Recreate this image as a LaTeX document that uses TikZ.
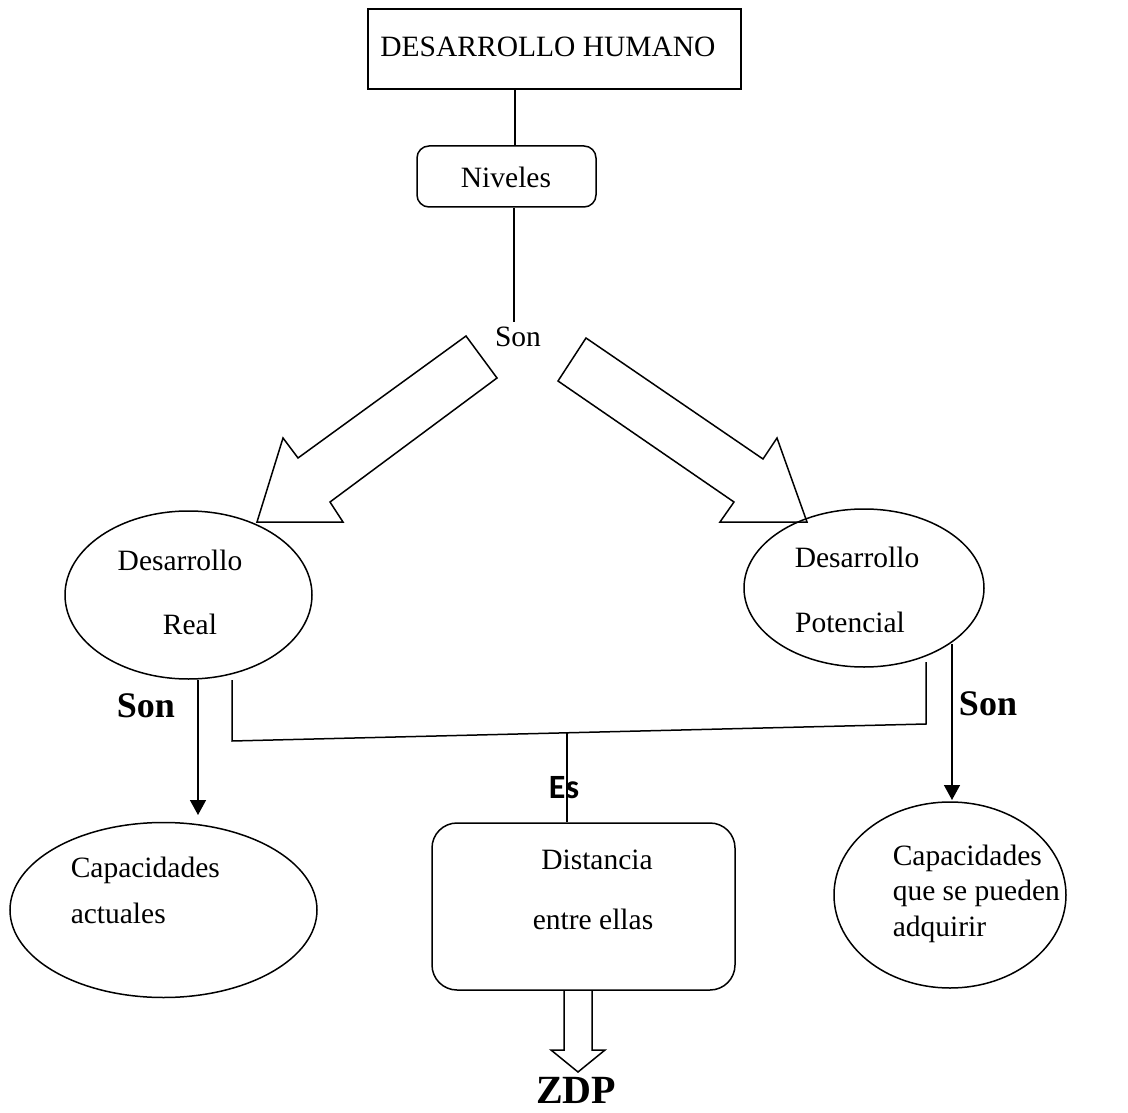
\documentclass[tikz,border=0pt]{standalone}
\usepackage{fontspec}
\setmainfont{Liberation Serif}
\newfontfamily\esfont{Carlito}
\usetikzlibrary{shapes.geometric,arrows.meta}
\begin{document}
\begin{tikzpicture}[x=1pt,y=-1pt,line width=1.5pt,line join=miter,
  txt/.style={font=\fontsize{29.5}{35}\selectfont,inner sep=0pt,anchor=base},
  boldlbl/.style={font=\fontsize{36}{40}\selectfont\bfseries,inner sep=0pt,anchor=base},
  oval/.style={draw,ellipse,inner sep=0pt},
  tip/.style={-{Triangle[width=16pt,length=15pt]}}]
\useasboundingbox (0,0) rectangle (1128,1113);
% boxes
\node[draw,rectangle,minimum width=373pt,minimum height=80pt] (top) at (554.5,49) {};
\node[txt] (toptxt) at (548,57) {DESARROLLO HUMANO};
\node[draw,rectangle,rounded corners=12pt,minimum width=179pt,minimum height=61pt] (niv) at (506.5,176.5) {};
\node[txt] (nivtxt) at (506,188) {Niveles};
\node[txt] (son) at (518,346) {Son};
% ovals
\node[oval,minimum width=247pt,minimum height=168pt] (dr) at (188.5,595) {};
\node[txt] (dr1) at (180,570) {Desarrollo};
\node[txt] (dr2) at (190,634) {Real};
\node[oval,minimum width=240pt,minimum height=158pt] (dp) at (864,588) {};
\node[txt] (dp1) at (857,567) {Desarrollo};
\node[txt] (dp2) at (850,632) {Potencial};
\node[oval,minimum width=307pt,minimum height=175pt] (ca) at (163.5,910) {};
\node[txt,anchor=base west] (ca1) at (70,877) {Capacidades};
\node[txt,anchor=base west] (ca2) at (70,923) {actuales};
\node[oval,minimum width=232pt,minimum height=186pt] (cq) at (950,895) {};
\node[txt,anchor=base west] (cq1) at (892,865) {Capacidades};
\node[txt,anchor=base west] (cq2) at (892,900) {que se pueden};
\node[txt,anchor=base west] (cq3) at (892,936) {adquirir};
\node[draw,rectangle,rounded corners=25pt,minimum width=303pt,minimum height=167pt] (dist) at (583.5,906.5) {};
\node[txt] (dist1) at (597,869) {Distancia};
\node[txt] (dist2) at (593,929) {entre ellas};
% labels
\node[boldlbl] (sonL) at (146,717) {Son};
\node[boldlbl] (sonR) at (988,715) {Son};
\node[inner sep=0pt,anchor=base,font=\fontsize{34}{38}\selectfont\esfont\bfseries] (es) at (564,798) {Es};
\node[inner sep=0pt,anchor=base,font=\fontsize{40}{44}\selectfont\bfseries] (zdp) at (576,1103) {ZDP};
% coordinates
\coordinate (c515) at (515,0);
\coordinate (c514) at (514,0);
\coordinate (sonTop) at (514,322);
\coordinate (tipL) at (198,815);
\coordinate (tipR) at (952,800);
\coordinate (bl) at (232,680);
\coordinate (br) at (926,662);
\coordinate (bj) at (567,733);
% connectors
\draw (top.south -| c515) -- (niv.north -| c515);
\draw (niv.south -| c514) -- (sonTop);
\draw[tip] (dr.south -| tipL) -- (tipL);
\draw[tip] (dp.-33 -| tipR) -- (tipR);
\draw (bl) -- (232,741) -- (926,724) -- (br);
\draw (bj) -- (dist.north -| bj);
% block arrows
\draw (466,336) -- (497,378) -- (330,502) -- (343,522) -- (257,522) -- (283,438) -- (298,458) -- cycle;
\draw (586,338) -- (763,459) -- (777,438) -- (807,522) -- (720,522) -- (734,502) -- (558,381) -- cycle;
\draw (dist.south -| 564,0) -- (564,1050) -- (551,1050) -- (578,1072) -- (605,1050) -- (592,1050) -- (dist.south -| 592,0);
\end{tikzpicture}
\end{document}
